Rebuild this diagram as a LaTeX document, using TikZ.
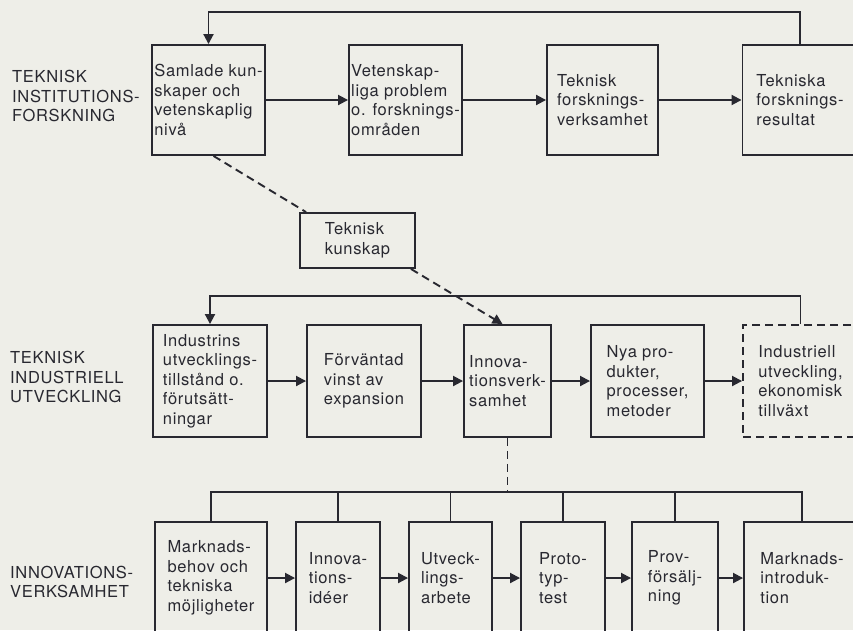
\documentclass[tikz,border=0pt]{standalone}
\usepackage{fontspec}
\setmainfont{TeX Gyre Heros}[LetterSpace=4]
\usepackage{tikz}
\usetikzlibrary{arrows.meta,calc}
\definecolor{ink}{RGB}{40,40,48}
\definecolor{paper}{RGB}{238,238,232}

\begin{document}
\begin{tikzpicture}[x=1pt,y=-1pt]
  \tikzstyle{box}=[draw=ink,line width=1.9pt,text=ink,align=left,inner sep=0pt,font=\fontsize{16.5}{19.5}\selectfont]
  \tikzstyle{lbl}=[anchor=west,inner sep=0pt,align=left,text=ink,font=\fontsize{16.5}{19.5}\selectfont]
  \tikzstyle{line}=[draw=ink,line width=1.9pt]
  \tikzstyle{flow}=[line,-{Triangle[length=10pt,width=10pt]}]
  \tikzstyle{dashline}=[dash pattern=on 8pt off 5pt]
  \useasboundingbox (0,0) rectangle (853,630);
  \fill[paper] (0,0) rectangle (853,630);
  \clip (0,0) rectangle (853,630);

  \draw (12,96) node[lbl] (l1){TEKNISK\\INSTITUTIONS-\\FORSKNING};
  \draw (10,377) node[lbl] (l2){TEKNISK\\INDUSTRIELL\\UTVECKLING};
  \draw (10,582) node[lbl] (l3){INNOVATIONS-\\VERKSAMHET};

  \draw (208.5,100) node[box,minimum width=113pt,minimum height=110pt] (sam){Samlade kun-\\skaper och\\vetenskaplig\\nivå};
  \draw (405.5,100) node[box,minimum width=113pt,minimum height=110pt] (vet){Vetenskap-\\liga problem\\o. forsknings-\\områden};
  \draw (602.5,100) node[box,minimum width=111pt,minimum height=110pt] (tfv){Teknisk\\forsknings-\\verksamhet};
  \draw (800,100) node[box,minimum width=115pt,minimum height=110pt] (tfr){Tekniska\\forsknings-\\resultat};

  \draw (357.5,240.5) node[box,minimum width=115pt,minimum height=55pt] (tk){Teknisk\\kunskap};

  \draw (210,381) node[box,minimum width=114pt,minimum height=112pt] (ind){Industrins\\utvecklings-\\tillstånd o.\\förutsätt-\\ningar};
  \draw (364,381) node[box,minimum width=114pt,minimum height=112pt] (fv){Förväntad\\vinst av\\expansion};
  \draw (507.5,381) node[box,minimum width=87pt,minimum height=112pt] (inv){Innova-\\tionsverk-\\samhet};
  \draw (647.5,381) node[box,minimum width=113pt,minimum height=112pt] (nya){Nya pro-\\dukter,\\processer,\\metoder};
  \draw (800.5,381) node[box,dashline,minimum width=115pt,minimum height=112pt] (iue){Industriell\\utveckling,\\ekonomisk\\tillväxt};

  \draw (211,578) node[box,minimum width=112pt,minimum height=112pt] (mbt){Marknads-\\behov och\\tekniska\\möjligheter};
  \draw (338,578) node[box,minimum width=84pt,minimum height=112pt] (iid){Innova-\\tions-\\idéer};
  \draw (450.5,578) node[box,minimum width=83pt,minimum height=112pt] (ua){Utveck-\\lings-\\arbete};
  \draw (563,578) node[box,minimum width=84pt,minimum height=112pt] (ptt){Proto-\\typ-\\test};
  \draw (675,578) node[box,minimum width=86pt,minimum height=112pt] (pf){Prov-\\försälj-\\ning};
  \draw (802,578) node[box,minimum width=116pt,minimum height=112pt] (mi){Marknads-\\introduk-\\tion};

  \draw[flow] (sam) -- (vet);
  \draw[flow] (vet) -- (tfv);
  \draw[flow] (tfv) -- (tfr);
  \draw[flow] (tfr.north) -- ++(0,-32) -| (sam.north);

  \draw[line,dashline] ([xshift=5pt]sam.south) -- ([xshift=7pt]tk.north west);
  \draw[flow,dashline] ([xshift=-5pt]tk.south east) -- ([xshift=-5pt]inv.north);

  \draw[flow] (ind) -- (fv);
  \draw[flow] (fv) -- (inv);
  \draw[flow] (inv) -- (nya);
  \draw[flow] (nya) -- (iue);
  \draw[flow] (iue.north) -- ++(0,-28) -| (ind.north);

  \draw (507.5,492) coordinate (bus);
  \draw[line,dashline] (inv.south) -- (bus);
  \draw[line] (mbt.north) |- (bus) -| (mi.north);
  \foreach \n in {iid,ua,ptt,pf}
    \draw[line] (\n.north) -- (\n.north |- bus);

  \draw[flow] (mbt) -- (iid);
  \draw[flow] (iid) -- (ua);
  \draw[flow] (ua) -- (ptt);
  \draw[flow] (ptt) -- (pf);
  \draw[flow] (pf) -- (mi);
\end{tikzpicture}
\end{document}
